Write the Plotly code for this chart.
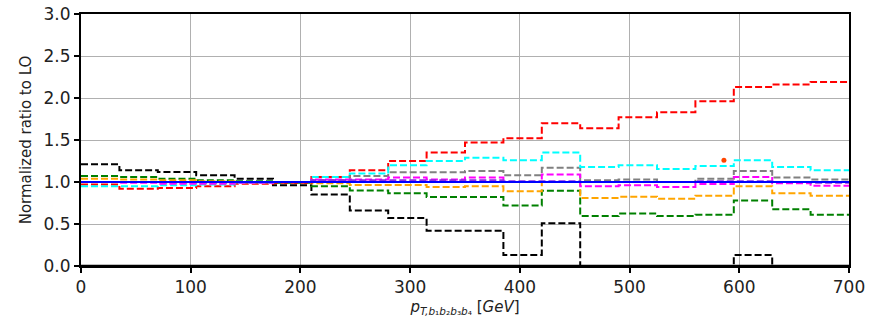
import plotly.graph_objects as go

edges = [0, 35, 70, 105, 140, 175, 210, 245, 280, 315, 350, 385, 420, 455, 490, 525, 560, 595, 630, 665, 700]

black = [1.21, 1.14, 1.12, 1.08, 1.04, 0.96, 0.85, 0.66, 0.57, 0.42, 0.42, 0.13, 0.51, 0, 0, 0, 0, 0.13, 0, 0]
green = [1.07, 1.06, 1.04, 1.02, 1.01, 0.99, 0.95, 0.90, 0.865, 0.82, 0.82, 0.72, 0.895, 0.595, 0.625, 0.595, 0.61, 0.78, 0.675, 0.61]
orange = [1.04, 1.03, 1.02, 1.01, 1.0, 1.0, 0.985, 0.965, 0.965, 0.94, 0.95, 0.89, 1.0, 0.81, 0.825, 0.80, 0.835, 0.95, 0.865, 0.835]
red = [0.97, 0.92, 0.93, 0.95, 0.98, 0.99, 1.06, 1.14, 1.25, 1.35, 1.47, 1.52, 1.70, 1.64, 1.77, 1.83, 1.96, 2.13, 2.16, 2.19]
gray = [1.0, 1.0, 0.99, 0.99, 0.99, 1.0, 1.02, 1.07, 1.115, 1.115, 1.13, 1.08, 1.17, 1.02, 1.03, 1.0, 1.04, 1.13, 1.055, 1.03]
cyan = [0.95, 0.95, 0.96, 0.97, 0.99, 1.0, 1.06, 1.10, 1.20, 1.25, 1.29, 1.26, 1.35, 1.18, 1.20, 1.155, 1.19, 1.26, 1.18, 1.14]
magenta = [1.0, 0.99, 0.98, 0.98, 0.99, 1.0, 1.03, 1.03, 1.055, 1.03, 1.055, 1.0, 1.09, 0.95, 0.96, 0.94, 0.975, 1.06, 0.985, 0.955]
purple = [1.0, 1.0, 1.0, 1.0, 1.0, 1.0, 1.02, 1.02, 1.02, 1.02, 1.02, 1.01, 1.01, 1.0, 1.0, 1.0, 1.01, 1.01, 1.0, 0.99]
blue = [1.0] * 20

point_x = [586]
point_y = [1.26]

series = [
    (black, "black", "7px,3px"),
    (green, "green", "7px,3px"),
    (orange, "orange", "7px,3px"),
    (red, "red", "7px,3px"),
    (gray, "gray", "7px,3px"),
    (cyan, "cyan", "7px,3px"),
    (magenta, "magenta", "7px,3px"),
    (purple, "blueviolet", "7px,3px"),
    (blue, "blue", "solid"),
]

fig = go.Figure()
for vals, col, dash in series:
    fig.add_trace(go.Scatter(
        x=edges, y=vals + [vals[-1]], mode="lines", line_shape="hv",
        line=dict(color=col, width=2, dash=dash), showlegend=False,
        hoverinfo="skip"))

fig.add_trace(go.Scatter(x=point_x, y=point_y, mode="markers",
                         marker=dict(color="orangered", size=5), showlegend=False))

axis_common = dict(
    showline=True, linecolor="black", linewidth=2, mirror=True,
    ticks="outside", ticklen=5, tickwidth=1.5, tickcolor="black",
    showgrid=True, gridcolor="#b0b0b0", gridwidth=1, zeroline=False,
    automargin=False,
    tickfont=dict(family="DejaVu Sans", size=17, color="#222"),
)

fig.update_xaxes(range=[0, 700], tickvals=[0, 100, 200, 300, 400, 500, 600, 700], **axis_common,
                 title=dict(text="<i>p</i><sub><i>T,b</i>₁<i>b</i>₂<i>b</i>₃<i>b</i>₄</sub> [<i>GeV</i>]",
                            font=dict(family="DejaVu Sans", size=15, color="#222"), standoff=5))
fig.update_yaxes(range=[0, 3.0], tickvals=[0, 0.5, 1.0, 1.5, 2.0, 2.5, 3.0], tickformat=".1f", **axis_common,
                 title=dict(text="Normalized ratio to LO",
                            font=dict(family="DejaVu Sans", size=15, color="#222"), standoff=8))

# spine along the bottom drawn above the data, as in the reference
fig.add_shape(type="line", xref="paper", yref="paper", x0=0, x1=1, y0=0, y1=0,
              line=dict(color="black", width=2.5), layer="above")

fig.update_layout(
    width=870, height=323,
    margin=dict(l=81, r=21, t=14, b=57),
    plot_bgcolor="white", paper_bgcolor="white",
)

fig.write_html("out.html")
